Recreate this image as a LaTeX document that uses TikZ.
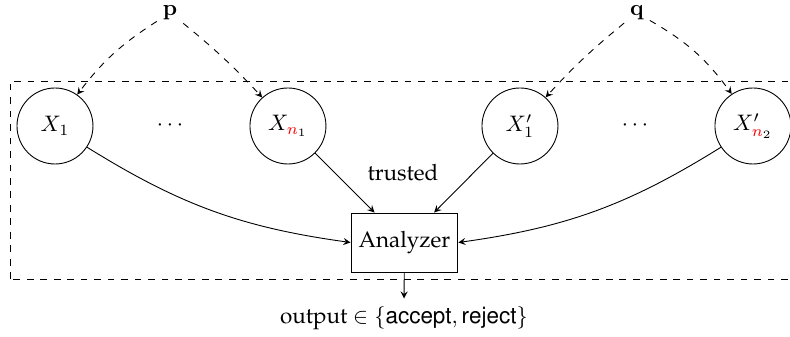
\documentclass[tikz,border=0pt]{standalone}
\usepackage[T1]{fontenc}
\usepackage{palatino}
\usepackage{helvet}
\usepackage{xcolor}

\begin{document}
\begin{tikzpicture}[>=stealth,
  party/.style={draw,circle,minimum size=1.19cm,inner sep=0pt},
  analyzer/.style={draw,rectangle,minimum width=1.675cm,minimum height=0.924cm},
  source/.style={inner sep=2.5pt}]

\useasboundingbox (0,0) rectangle (12.37,5.277);

% trusted region
\draw[dashed] (0.157,0.908) rectangle (12.53,4.008);

\node[source] (p) at (2.662,5.085) {$\mathbf{p}$};
\node[source] (q) at (9.974,5.085) {$\mathbf{q}$};

\node[party] (x1) at (0.861,3.304) {$X_1$};
\node (dots1) at (2.662,3.304) {$\cdots$};
\node[party] (xn1) at (4.509,3.304) {$X_{{\color{red}n}_1}$};
\node[party] (y1) at (8.142,3.304) {$X'_1$};
\node (dots2) at (9.942,3.304) {$\cdots$};
\node[party] (yn2) at (11.790,3.304) {$X'_{{\color{red}n}_2}$};

\node (trusted) at (6.310,2.568) {trusted};
\node[analyzer] (an) at (6.333,1.480) {Analyzer};
\node (out) at (6.325,0.297) {output $\in\{\textsf{accept},\textsf{reject}\}$};

\draw[->,dashed] (p) to[bend right=10] (x1);
\draw[->,dashed] (p) to[bend left=4] (xn1);
\draw[->,dashed] (q) to[bend right=4] (y1);
\draw[->,dashed] (q) to[bend left=12] (yn2);

\draw[->] (x1) to[bend right=12] (an.west);
\draw[->] (xn1) -- (an);
\draw[->] (y1) -- (an);
\draw[->] (yn2) to[bend left=12] (an.east);
\draw[->] (an) -- (out);

\end{tikzpicture}
\end{document}
